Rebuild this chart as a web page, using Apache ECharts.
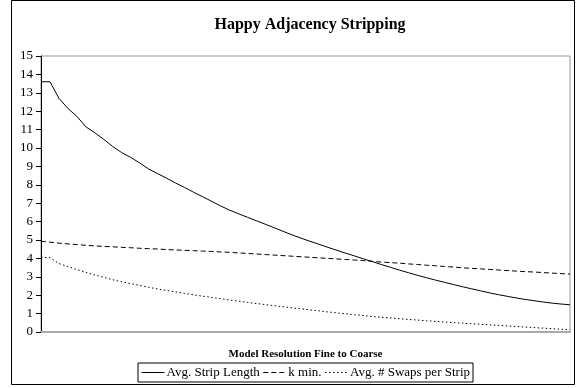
<!DOCTYPE html>
<html>
<head>
<meta charset="utf-8">
<script src="https://cdn.jsdelivr.net/npm/echarts@6/dist/echarts.min.js"></script>
<style>
  html, body { margin: 0; padding: 0; background: #fff; }
  #main { width: 576px; height: 388px; }
</style>
</head>
<body>
<div id="main"></div>
<script>
// one category per resolution step (no labels shown on the x axis)
const steps = [];
for (let i = 1; i <= 60; i++) steps.push(String(i));

const stripLength = [
  13.6, 13.6, 12.7, 12.15, 11.72, 11.15, 10.83, 10.47, 10.08, 9.75,
  9.49, 9.19, 8.86, 8.61, 8.36, 8.1, 7.86, 7.6, 7.36, 7.11,
  6.86, 6.63, 6.43, 6.24, 6.05, 5.86, 5.67, 5.47, 5.28, 5.1,
  4.93, 4.77, 4.6, 4.44, 4.28, 4.13, 3.97, 3.82, 3.66, 3.51,
  3.36, 3.22, 3.08, 2.95, 2.82, 2.7, 2.58, 2.46, 2.35, 2.24,
  2.13, 2.03, 1.94, 1.85, 1.77, 1.7, 1.63, 1.57, 1.52, 1.48
];
const kMin = [
  4.93, 4.88, 4.83, 4.79, 4.75, 4.71, 4.68, 4.65, 4.63, 4.6,
  4.58, 4.55, 4.53, 4.51, 4.48, 4.46, 4.44, 4.42, 4.4, 4.38,
  4.35, 4.33, 4.3, 4.27, 4.24, 4.21, 4.18, 4.15, 4.12, 4.09,
  4.06, 4.03, 4.0, 3.97, 3.94, 3.91, 3.88, 3.84, 3.8, 3.77,
  3.74, 3.7, 3.67, 3.63, 3.6, 3.56, 3.53, 3.49, 3.46, 3.43,
  3.4, 3.37, 3.34, 3.31, 3.28, 3.26, 3.23, 3.2, 3.17, 3.15
];
const swapsPerStrip = [
  4.06, 4.04, 3.72, 3.56, 3.39, 3.24, 3.1, 2.97, 2.84, 2.73,
  2.63, 2.53, 2.43, 2.34, 2.26, 2.18, 2.1, 2.02, 1.95, 1.88,
  1.81, 1.74, 1.68, 1.61, 1.55, 1.49, 1.43, 1.37, 1.31, 1.26,
  1.2, 1.15, 1.09, 1.04, 0.99, 0.94, 0.89, 0.84, 0.8, 0.76,
  0.72, 0.68, 0.65, 0.61, 0.58, 0.54, 0.51, 0.48, 0.45, 0.42,
  0.39, 0.36, 0.33, 0.3, 0.27, 0.24, 0.21, 0.18, 0.15, 0.12
];

const serif = "Liberation Serif";

function lineSeries(name, data, type) {
  return {
    name: name,
    type: "line",
    data: data,
    symbol: "none",
    smooth: false,
    lineStyle: { color: "#000", width: 1, type: type },
    itemStyle: { color: "#000" },
    emphasis: { disabled: true }
  };
}

const options = {
  animation: false,
  backgroundColor: "#fff",
  title: {
    text: "Happy Adjacency Stripping",
    left: 305,
    top: 12,
    textAlign: "center",
    textStyle: { fontFamily: serif, fontSize: 16, fontWeight: "bold", color: "#000" }
  },
  graphic: [
    {
      type: "rect",
      shape: { x: 11.5, y: 0.5, width: 563, height: 384 },
      style: { fill: "none", stroke: "#000", lineWidth: 1 },
      silent: true
    }
  ],
  legend: {
    left: 138,
    top: 363,
    itemGap: 3,
    itemWidth: 23,
    itemHeight: 14,
    padding: [3, 3, 3, 3],
    borderColor: "#000",
    borderWidth: 1,
    itemStyle: { opacity: 0 },
    lineStyle: { width: 1 },
    textStyle: { fontFamily: serif, fontSize: 13, color: "#000", padding: [0, 0, 0, -3] },
    data: ["Avg. Strip Length", "k min.", "Avg. # Swaps per Strip"]
  },
  grid: {
    left: 41,
    top: 56,
    right: 6,
    bottom: 56,
    show: true,
    borderColor: "#999",
    borderWidth: 1,
    backgroundColor: "#fff"
  },
  xAxis: {
    type: "category",
    data: steps,
    boundaryGap: false,
    name: "Model Resolution Fine to Coarse",
    nameLocation: "middle",
    nameGap: 17,
    nameTextStyle: { fontFamily: serif, fontSize: 11, fontWeight: "bold", color: "#000", letterSpacing: -0.9 },
    axisLine: { lineStyle: { color: "#aaa", width: 2 } },
    axisTick: { show: false },
    axisLabel: { show: false },
    splitLine: { show: false }
  },
  yAxis: {
    type: "value",
    min: 0,
    max: 15,
    interval: 1,
    axisLine: { show: true, lineStyle: { color: "#000", width: 1 } },
    axisTick: { show: true, length: 5, lineStyle: { color: "#000" } },
    axisLabel: { fontFamily: serif, fontSize: 13, color: "#000", margin: 8 },
    splitLine: { show: false }
  },
  series: [
    lineSeries("Avg. Strip Length", stripLength, "solid"),
    lineSeries("k min.", kMin, [5, 3]),
    lineSeries("Avg. # Swaps per Strip", swapsPerStrip, [1.5, 2.5])
  ]
};

var myChart = echarts.init(document.getElementById("main"));
myChart.setOption(options);
</script>
</body>
</html>
